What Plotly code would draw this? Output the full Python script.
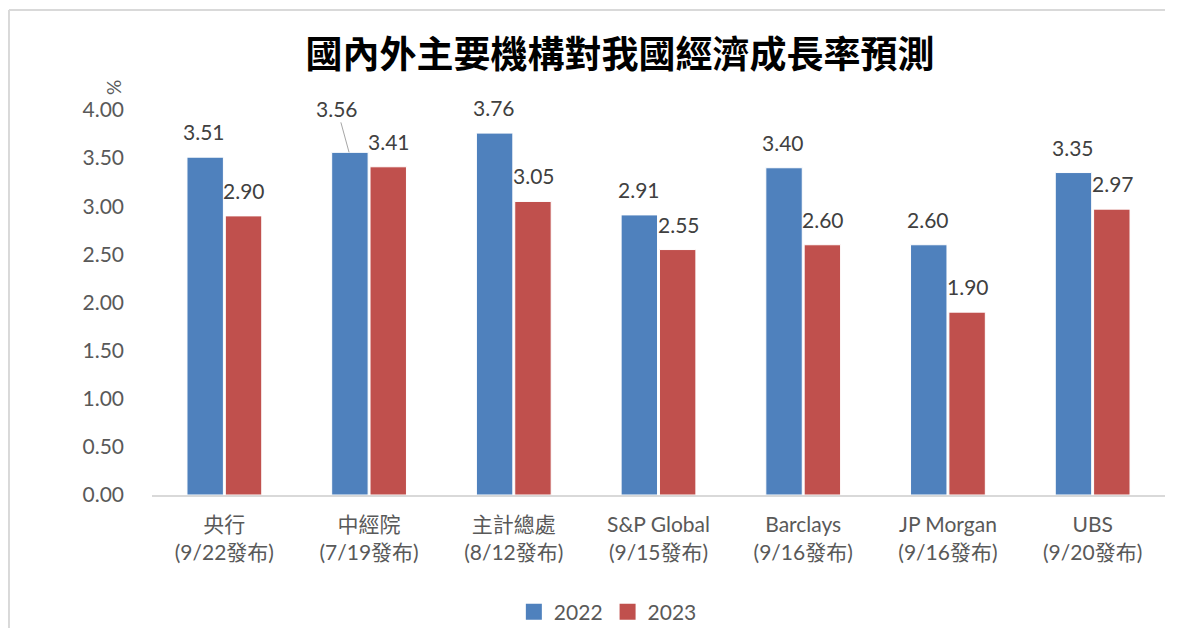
import plotly.graph_objects as go

categories = ["央行<br>(9/22發布)", "中經院<br>(7/19發布)", "主計總處<br>(8/12發布)",
              "S&P Global<br>(9/15發布)", "Barclays<br>(9/16發布)", "JP Morgan<br>(9/16發布)",
              "UBS<br>(9/20發布)"]
values_2022 = [3.51, 3.56, 3.76, 2.91, 3.40, 2.60, 3.35]
values_2023 = [2.90, 3.41, 3.05, 2.55, 2.60, 1.90, 2.97]
y_ticks = [0, 0.5, 1.0, 1.5, 2.0, 2.5, 3.0, 3.5, 4.0]
title_text = "國內外主要機構對我國經濟成長率預測"

FONT = "Lato, 'Noto Sans CJK TC', sans-serif"
GRAY = "#595959"
LBL = "#404040"
BLUE = "#4F81BD"
RED = "#C0504D"

fig = go.Figure()
fig.add_trace(go.Bar(name="2022", x=categories, y=values_2022, showlegend=False,
                     marker=dict(color=BLUE, line=dict(color="#FFFFFF", width=1))))
fig.add_trace(go.Bar(name="2023", x=categories, y=values_2023, showlegend=False,
                     marker=dict(color=RED, line=dict(color="#FFFFFF", width=1))))
# legend entries
fig.add_trace(go.Scatter(name="2022", x=[None], y=[None], mode="markers",
                         marker=dict(symbol="square", size=16, color=BLUE)))
fig.add_trace(go.Scatter(name="2023", x=[None], y=[None], mode="markers",
                         marker=dict(symbol="square", size=16, color=RED)))

# value labels
for vals, shift in ((values_2022, -20), (values_2023, 20)):
    for i, v in enumerate(vals):
        if vals is values_2022 and i == 1:
            fig.add_annotation(x=categories[i], y=v, xshift=shift,
                               text=f"{v:.2f}", showarrow=True, arrowhead=0,
                               arrowwidth=1, arrowcolor="#A6A6A6", ax=-12, ay=-44,
                               font=dict(size=21, color=LBL, family=FONT))
        else:
            fig.add_annotation(x=categories[i], y=v, xshift=shift, yshift=11,
                               text=f"{v:.2f}", showarrow=False, yanchor="bottom",
                               font=dict(size=21, color=LBL, family=FONT))

fig.add_annotation(xref="paper", yref="paper", x=-0.0513, y=1.083, text="%",
                   showarrow=False, textangle=-90,
                   font=dict(size=19, color=GRAY, family=FONT))

# outer border (top and left)
fig.add_shape(type="line", xref="paper", yref="paper", x0=-0.1412, x1=1.0, y0=1.2597, y1=1.2597,
              line=dict(color="#D9D9D9", width=2))
fig.add_shape(type="line", xref="paper", yref="paper", x0=-0.1412, x1=-0.1412, y0=1.2597, y1=-0.35,
              line=dict(color="#D9D9D9", width=2))

fig.update_layout(
    width=1160, height=620,
    margin=dict(l=144, r=3, t=102, b=133, autoexpand=False),
    paper_bgcolor="white", plot_bgcolor="white",
    title=dict(text=f"<b>{title_text}</b>", x=612 / 1160, xanchor="center", y=1 - 47 / 620,
               yanchor="middle",
               font=dict(size=37, color="#000000", family="'Noto Sans CJK TC', serif")),
    barmode="group", bargap=0.47, bargroupgap=0.05,
    font=dict(family=FONT, color=GRAY),
    showlegend=True,
    legend=dict(orientation="h", x=0.45, xanchor="center", y=-0.304, yanchor="middle",
                font=dict(size=21, color=GRAY, family=FONT), itemwidth=30, traceorder="normal"),
    xaxis=dict(showline=True, linecolor="#D9D9D9", linewidth=2, ticks="",
               ticklabelstandoff=10,
               tickfont=dict(size=21, color=GRAY, family=FONT), showgrid=False),
    yaxis=dict(range=[0, 4], tickvals=y_ticks, tickformat=".2f", showgrid=False,
               zeroline=False, showline=False, ticks="", ticklabelstandoff=27,
               tickfont=dict(size=21, color=GRAY, family=FONT)),
)

fig.write_html("out.html")
